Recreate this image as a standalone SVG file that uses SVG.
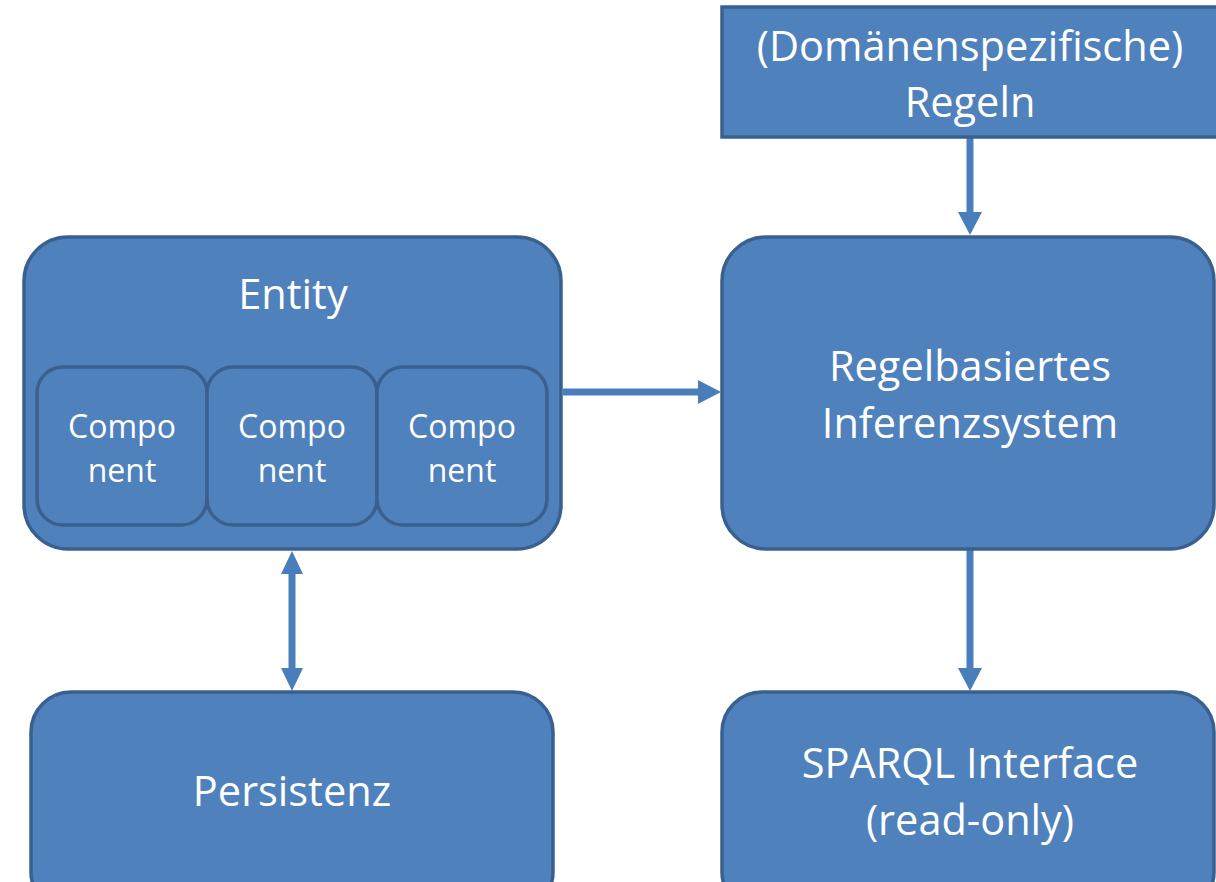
<svg xmlns="http://www.w3.org/2000/svg" width="1216" height="882" viewBox="0 0 1216 882">
<defs>
<style>
.box{fill:#4F81BD;stroke:#3A6090;stroke-width:3.5}
.t{fill:#FFFFFF;font-family:"Open Sans","Noto Sans",sans-serif;text-anchor:middle}
.big{font-size:41.5px}
.sm{font-size:32px}
.con{stroke:#4A7EBB;stroke-width:7;fill:none}
.head{fill:#4A7EBB}
</style>
</defs>
<rect width="1216" height="882" fill="#FFFFFF"/>
<g id="connectors">
<line class="con" x1="970" y1="138" x2="970" y2="214"/>
<polygon class="head" points="958,212 982,212 970,235"/>
<line class="con" x1="563" y1="392" x2="700" y2="392"/>
<polygon class="head" points="698,380 698,404 721,392"/>
<line class="con" x1="970" y1="550" x2="970" y2="670"/>
<polygon class="head" points="958,668 982,668 970,691"/>
<line class="con" x1="292" y1="570" x2="292" y2="672"/>
<polygon class="head" points="281,574 303,574 292,551"/>
<polygon class="head" points="281,668 303,668 292,691"/>
</g>
<g id="regeln">
<rect class="box" x="722" y="7" width="500" height="130"/>
<text class="t big" x="970" y="61">(Domänenspezifische)</text>
<text class="t big" x="970" y="117">Regeln</text>
</g>
<g id="entity">
<rect class="box" x="24" y="237" width="537" height="312" rx="44"/>
<text class="t big" x="293" y="309">Entity</text>
</g>
<g id="component1">
<rect class="box" x="37" y="367" width="170" height="158" rx="26"/>
<text class="t sm" x="122" y="438">Compo</text>
<text class="t sm" x="122" y="482">nent</text>
</g>
<g id="component2">
<rect class="box" x="207" y="367" width="170" height="158" rx="26"/>
<text class="t sm" x="292" y="438">Compo</text>
<text class="t sm" x="292" y="482">nent</text>
</g>
<g id="component3">
<rect class="box" x="377" y="367" width="170" height="158" rx="26"/>
<text class="t sm" x="462" y="438">Compo</text>
<text class="t sm" x="462" y="482">nent</text>
</g>
<g id="inferenz">
<rect class="box" x="722" y="237" width="492" height="312" rx="44"/>
<text class="t big" x="970" y="381">Regelbasiertes</text>
<text class="t big" x="970" y="438">Inferenzsystem</text>
</g>
<g id="persistenz">
<rect class="box" x="31" y="692" width="522" height="220" rx="40"/>
<text class="t big" x="292" y="806">Persistenz</text>
</g>
<g id="sparql">
<rect class="box" x="722" y="692" width="492" height="220" rx="40"/>
<text class="t big" x="970" y="778">SPARQL Interface</text>
<text class="t big" x="970" y="835">(read-only)</text>
</g>
</svg>
